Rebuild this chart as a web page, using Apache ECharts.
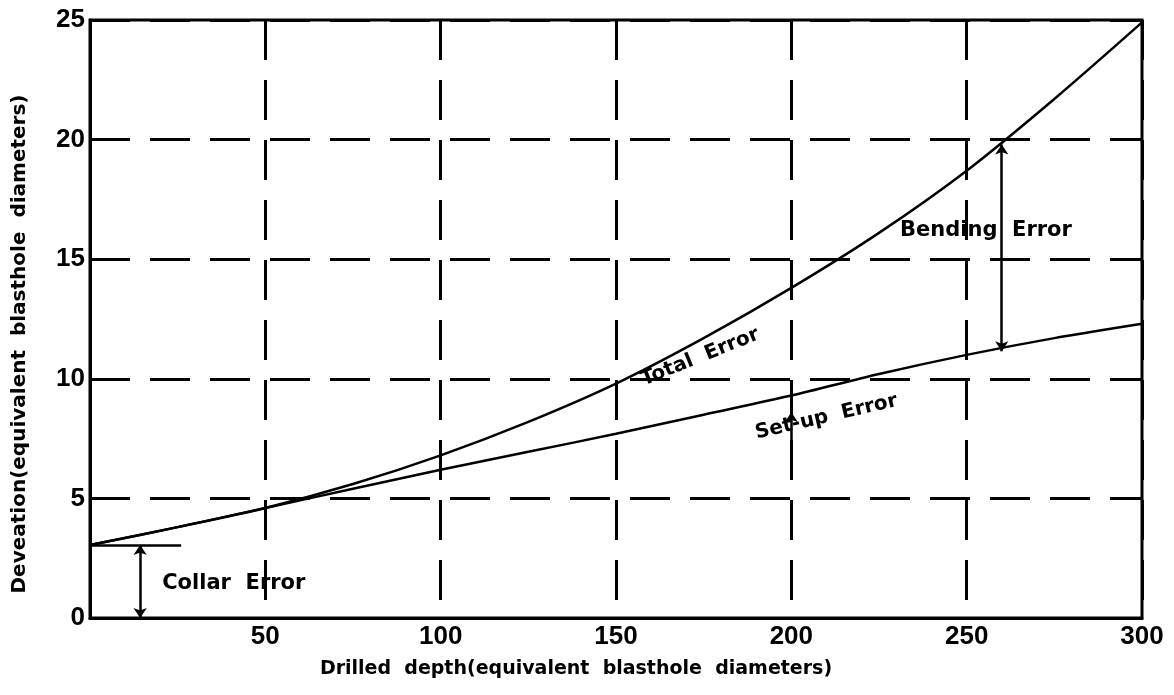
<!DOCTYPE html>
<html>
<head>
<meta charset="utf-8">
<script src="https://cdn.jsdelivr.net/npm/echarts@6/dist/echarts.min.js"></script>
<style>
html,body{margin:0;padding:0;background:#fff;}
#c{width:1174px;height:695px;}
</style>
</head>
<body>
<div id="c"></div>
<script>
// Data
var depth = [0, 25, 50, 75, 100, 125, 150, 175, 200, 225, 250, 275, 300];
var totalError = [3.05, 3.8, 4.6, 5.6, 6.8, 8.2, 9.8, 11.7, 13.8, 16.1, 18.7, 21.7, 24.9];
var setupError = [3.05, 3.8, 4.6, 5.4, 6.2, 6.95, 7.7, 8.5, 9.3, 10.2, 11.0, 11.7, 12.3];
var xTicks = [0, 50, 100, 150, 200, 250, 300];
var yTicks = [0, 5, 10, 15, 20, 25];
var collarLevel = 3.05;
var bendingAt = 260;

var FONT = 'DejaVu Sans';
var TICKFONT = 'Liberation Sans';
var chart = echarts.init(document.getElementById('c'), null, {renderer: 'canvas'});

function pairs(xs, ys) { return xs.map(function (x, i) { return [x, ys[i]]; }); }

var dash = {color: '#000', width: 3, type: [40, 20]};

chart.setOption({
  animation: false,
  backgroundColor: '#fff',
  grid: {left: 90, right: 32, top: 20, bottom: 77, show: true, borderColor: '#000', borderWidth: 3,
    containLabel: false, outerBoundsMode: 'none'},
  xAxis: {
    type: 'value', min: 0, max: 300, interval: 50,
    name: 'Drilled  depth(equivalent  blasthole  diameters)',
    nameLocation: 'middle', nameGap: 42,
    nameTextStyle: {fontFamily: FONT, fontWeight: 'bold', fontSize: 19, color: '#000', padding: [0, 80, 0, 0]},
    axisLine: {show: true, lineStyle: {color: '#000', width: 3}},
    axisTick: {show: false},
    axisLabel: {fontFamily: TICKFONT, fontWeight: 'bold', fontSize: 26, color: '#000', margin: 6,
      formatter: function (v) { return v === 0 ? '' : String(v); }},
    splitLine: {show: true, lineStyle: dash}
  },
  yAxis: {
    type: 'value', min: 0, max: 25, interval: 5,
    name: 'Deveation(equivalent  blasthole  diameters)',
    nameLocation: 'middle', nameGap: 60, nameRotate: 90,
    nameTextStyle: {fontFamily: FONT, fontWeight: 'bold', fontSize: 20, color: '#000', padding: [0, 50, 0, 0]},
    axisLine: {show: true, lineStyle: {color: '#000', width: 3}},
    axisTick: {show: false},
    axisLabel: {fontFamily: TICKFONT, fontWeight: 'bold', fontSize: 26, color: '#000', margin: 5},
    splitLine: {show: true, lineStyle: dash}
  },
  series: [
    {
      name: 'Total Error', type: 'line', smooth: 0.3, symbol: 'none',
      lineStyle: {color: '#000', width: 2.5},
      data: pairs(depth, totalError),
      z: 5
    },
    {
      name: 'Set-up Error', type: 'line', smooth: 0.3, symbol: 'none',
      lineStyle: {color: '#000', width: 2.5},
      data: pairs(depth, setupError),
      z: 5,
      markLine: {
        silent: true, animation: false,
        label: {show: false},
        lineStyle: {color: '#000', width: 2.5, type: 'solid'},
        symbolSize: 10,
        data: [
          [{coord: [0, collarLevel], symbol: 'none'}, {coord: [26, collarLevel], symbol: 'none'}],
          [{coord: [14.3, 0], symbol: 'arrow'}, {coord: [14.3, collarLevel], symbol: 'arrow'}],
          [{coord: [bendingAt, 11.15], symbol: 'arrow'}, {coord: [bendingAt, 19.8], symbol: 'arrow'}],
          [{coord: [200, 7.0], symbol: 'none'}, {coord: [200, 8.6], symbol: 'arrow'}]
        ]
      }
    }
  ]
});

// Text annotations positioned in data coordinates
var notes = [
  {text: 'Collar  Error', x: 41, y: 1.45, rot: 0, size: 21},
  {text: 'Bending  Error', x: 255.5, y: 16.2, rot: 0, size: 21},
  {text: 'Total  Error', x: 174, y: 10.9, rot: 22, size: 20},
  {text: 'Set-up  Error', x: 210, y: 8.4, rot: 13, size: 20}
];
var g = notes.map(function (n) {
  var p = chart.convertToPixel({gridIndex: 0}, [n.x, n.y]);
  return {
    type: 'text', x: p[0], y: p[1], rotation: n.rot * Math.PI / 180, z: 10,
    style: {text: n.text, fill: '#000', font: 'bold ' + n.size + 'px "' + FONT + '"',
      textAlign: 'center', textVerticalAlign: 'middle'}
  };
});
chart.setOption({graphic: g});
</script>
</body>
</html>
